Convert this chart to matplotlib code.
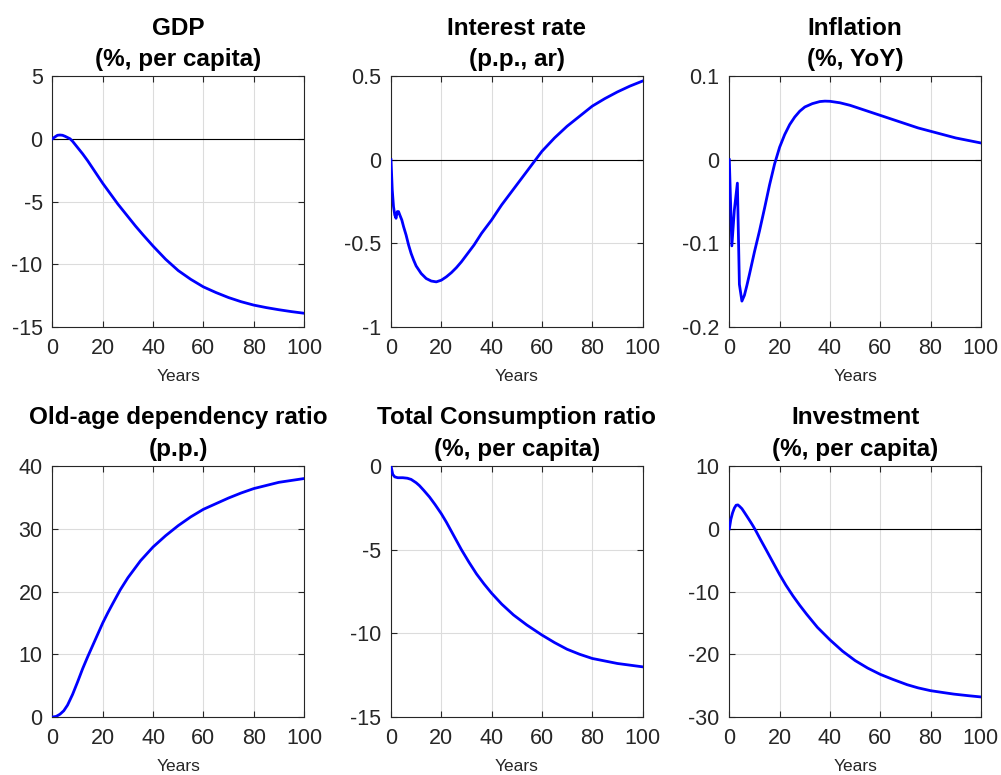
import matplotlib
matplotlib.use("Agg")
import matplotlib.pyplot as plt

plt.rcParams["font.family"] = ["Liberation Sans", "DejaVu Sans"]

# ---- data (years, values) ----
gdp_years = [0, 1, 2, 3, 4, 5, 6, 7, 8, 10, 12, 14, 16, 18, 20, 22, 24, 26, 28, 30, 33, 36,
             40, 45, 50, 55, 60, 65, 70, 75, 80, 85, 90, 95, 100]
gdp_vals = [0, 0.15, 0.28, 0.3, 0.28, 0.2, 0.1, 0.0, -0.2, -0.7, -1.2, -1.75, -2.35, -2.95,
            -3.55, -4.1, -4.65, -5.2, -5.7, -6.2, -6.95, -7.65, -8.55, -9.6, -10.5, -11.2,
            -11.8, -12.25, -12.65, -12.98, -13.25, -13.45, -13.62, -13.77, -13.9]

rate_years = [0, 0.5, 1, 1.5, 2, 2.5, 3, 3.5, 4.3, 5, 6, 7, 8, 9, 10, 12, 14, 16, 18, 20, 22,
              24, 26, 28, 30, 33, 36, 40, 44, 48, 52, 56, 60, 65, 70, 75, 80, 85, 90, 95, 100]
rate_vals = [0, -0.18, -0.28, -0.33, -0.35, -0.31, -0.31, -0.33, -0.36, -0.40, -0.45, -0.51,
             -0.56, -0.60, -0.635, -0.68, -0.71, -0.725, -0.73, -0.72, -0.70, -0.675, -0.645,
             -0.61, -0.57, -0.51, -0.44, -0.36, -0.27, -0.19, -0.11, -0.03, 0.05, 0.13, 0.2,
             0.26, 0.32, 0.365, 0.405, 0.44, 0.47]

infl_years = [0, 1, 2, 3.2, 4, 5, 6, 7, 8, 10, 12, 14, 16, 18, 20, 22, 24, 26, 28, 30, 33, 36,
              38, 40, 44, 48, 52, 56, 60, 65, 70, 75, 80, 85, 90, 95, 100]
infl_vals = [0, -0.103, -0.06, -0.028, -0.149, -0.169, -0.162, -0.15, -0.137, -0.11, -0.085,
             -0.058, -0.03, -0.005, 0.015, 0.03, 0.042, 0.051, 0.058, 0.063, 0.067, 0.0695,
             0.070, 0.0698, 0.068, 0.065, 0.061, 0.057, 0.053, 0.048, 0.043, 0.038, 0.034,
             0.030, 0.026, 0.023, 0.020]

oad_years = [0, 1.5, 3, 4.5, 6, 8, 10, 12, 14, 16, 18, 20, 22, 24, 27, 30, 35, 40, 45, 50, 55,
             60, 65, 70, 75, 80, 85, 90, 95, 100]
oad_vals = [0, 0.1, 0.45, 1.0, 1.9, 3.6, 5.6, 7.7, 9.6, 11.4, 13.2, 15.0, 16.6, 18.1, 20.3,
            22.2, 24.9, 27.1, 28.9, 30.5, 31.9, 33.1, 34.0, 34.9, 35.7, 36.4, 36.9, 37.4,
            37.7, 38.0]

cons_years = [0, 0.7, 1.5, 2.7, 4.7, 6.5, 8, 10, 11.3, 13, 15.3, 17.5, 20, 22, 24, 26, 28,
              31, 34, 37, 40, 44, 48.7, 54, 60, 65, 70, 75, 80, 85, 90, 95, 100]
cons_vals = [0, -0.5, -0.65, -0.7, -0.7, -0.73, -0.8, -1.0, -1.17, -1.45, -1.85, -2.3, -2.85,
             -3.35, -3.9, -4.45, -5.0, -5.75, -6.45, -7.05, -7.6, -8.25, -8.9, -9.5, -10.1,
             -10.55, -10.95, -11.25, -11.5, -11.65, -11.8, -11.9, -12.0]

inv_years = [0, 0.6, 1.3, 2, 2.7, 3.4, 4, 5, 6, 7.3, 8.5, 9.5, 10.5, 12.5, 14.7, 17, 20, 22.5,
             25.3, 28, 30.7, 35, 40, 45, 50, 55, 60, 65, 70.7, 75, 80, 85, 89.3, 95, 100]
inv_vals = [0, 1.5, 2.55, 3.3, 3.75, 3.8, 3.6, 3.2, 2.6, 1.8, 1.05, 0.4, -0.3, -1.8, -3.4,
            -5.1, -7.3, -9.0, -10.7, -12.2, -13.6, -15.7, -17.7, -19.5, -21.0, -22.2, -23.2,
            -24.0, -24.85, -25.35, -25.8, -26.1, -26.35, -26.6, -26.8]

titles = ["GDP\n(%, per capita)", "Interest rate\n(p.p., ar)", "Inflation\n(%, YoY)",
          "Old-age dependency ratio\n(p.p.)", "Total Consumption ratio\n(%, per capita)",
          "Investment\n(%, per capita)"]
ylims = [(-15, 5), (-1, 0.5), (-0.2, 0.1), (0, 40), (-15, 0), (-30, 10)]
yticks = [[-15, -10, -5, 0, 5], [-1, -0.5, 0, 0.5], [-0.2, -0.1, 0, 0.1],
          [0, 10, 20, 30, 40], [-15, -10, -5, 0], [-30, -20, -10, 0, 10]]
series = [(gdp_years, gdp_vals), (rate_years, rate_vals), (infl_years, infl_vals),
          (oad_years, oad_vals), (cons_years, cons_vals), (inv_years, inv_vals)]
zero_line = [True, True, True, False, False, True]

fig = plt.figure(figsize=(10.01, 7.75), dpi=100)
lefts = [0.0524, 0.3906, 0.7286]
bottoms = [0.578, 0.0748]
w, h = 0.2513, 0.3239

tick_col = "#262626"
for i in range(6):
    ax = fig.add_axes([lefts[i % 3], bottoms[i // 3], w, h])
    x, y = series[i]
    if zero_line[i]:
        ax.axhline(0, color="black", lw=0.8, zorder=2)
    ax.plot(x, y, color="blue", lw=2.0, zorder=3, solid_joinstyle="round")
    ax.set_xlim(0, 100)
    ax.set_ylim(*ylims[i])
    ax.set_xticks([0, 20, 40, 60, 80, 100])
    ax.set_yticks(yticks[i])
    ax.set_yticklabels([f"{t:g}" for t in yticks[i]])
    ax.grid(True, color="#dcdcdc", lw=0.8)
    ax.set_axisbelow(True)
    ax.tick_params(direction="in", top=True, right=True, length=4, width=0.8,
                   labelsize=15.5, colors=tick_col)
    ax.tick_params(axis="x", pad=8)
    ax.tick_params(axis="y", pad=7)
    for s in ax.spines.values():
        s.set_color(tick_col)
        s.set_linewidth(0.8)
    ax.set_xlabel("Years", fontsize=12.5, color=tick_col, labelpad=7)
    ax.set_title(titles[i], fontsize=17.5, fontweight="bold", pad=7.5, linespacing=1.45)

plt.savefig("out.png", dpi=100)
